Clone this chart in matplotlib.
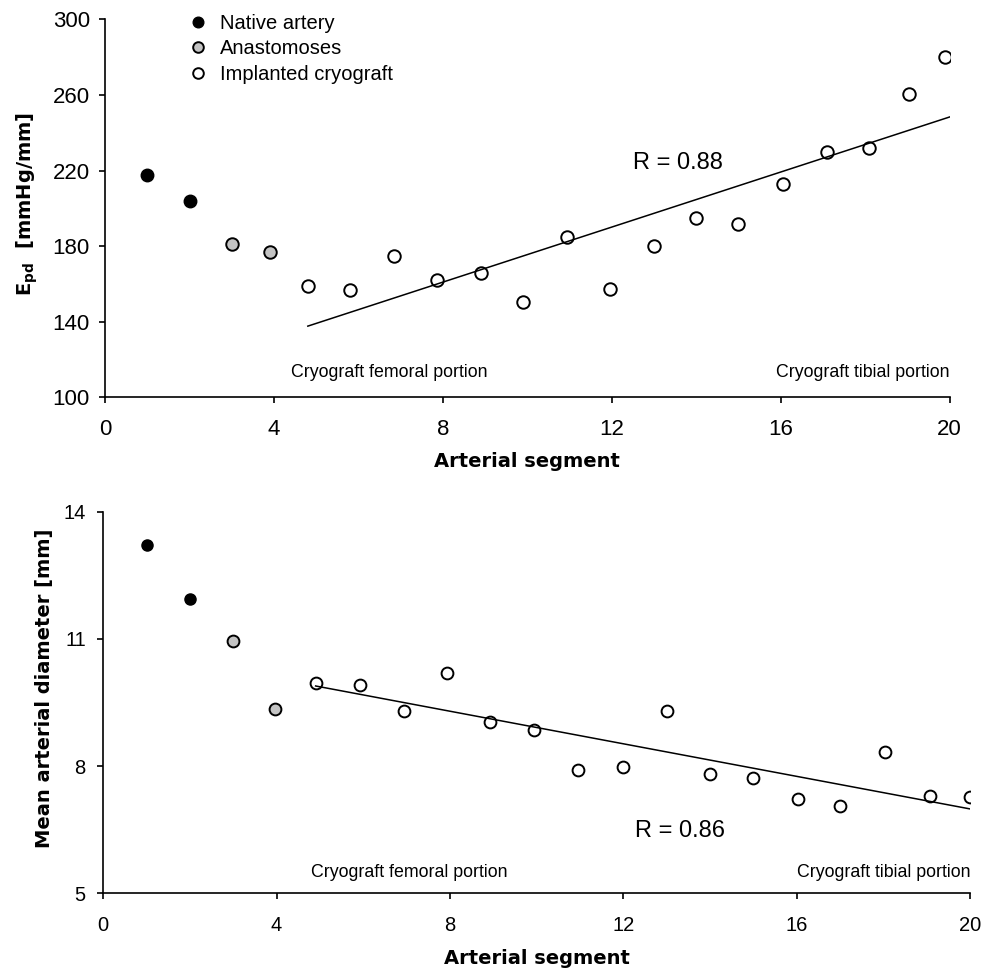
import numpy as np
import matplotlib.pyplot as plt

plt.rcParams['font.family'] = ['Liberation Sans', 'DejaVu Sans']
plt.rcParams['mathtext.fontset'] = 'dejavusans'

# top panel: E_pd
native_x = [1, 2]
native_epd = [217.5, 204]
anast_x = [3, 3.9]
anast_epd = [181, 177]
graft_x_top = [4.8, 5.8, 6.85, 7.85, 8.9, 9.9, 10.95, 11.95, 13, 14, 15, 16.05, 17.1, 18.1, 19.05, 19.9]
graft_epd = [158.7, 156.6, 174.6, 162, 165.6, 150.3, 184.7, 157, 180, 195, 191.5, 212.7, 229.6, 231.7, 260.3, 280]
fit_x_top = [4.8, 20.05]
fit_epd = [137.6, 248.7]

# bottom panel: mean diameter
native_diam = [13.22, 11.94]
anast_x_bot = [3, 3.97]
anast_diam = [10.95, 9.34]
graft_x_bot = [4.9, 5.93, 6.94, 7.93, 8.93, 9.94, 10.96, 12, 13, 14, 15, 16.03, 17, 18.04, 19.08, 20]
graft_diam = [9.96, 9.91, 9.3, 10.19, 9.04, 8.85, 7.92, 7.97, 9.3, 7.81, 7.71, 7.22, 7.07, 8.33, 7.29, 7.26]
fit_x_bot = [4.9, 20.05]
fit_diam = [9.89, 6.98]

grey = '#c4c4c4'
lab_font = dict(family='DejaVu Sans', fontsize=14, fontweight='bold')

fig = plt.figure(figsize=(9.83, 9.71), dpi=100)
ax1 = fig.add_axes([0.107, 0.591, 0.859, 0.389])
ax2 = fig.add_axes([0.105, 0.080, 0.882, 0.393])

def style(ax, xpad, ypad, size):
    ax.spines['top'].set_visible(False)
    ax.spines['right'].set_visible(False)
    for s in ['left', 'bottom']:
        ax.spines[s].set_linewidth(1.2)
    ax.tick_params(direction='out', length=4, width=1.2, labelsize=size)
    ax.tick_params(axis='x', pad=xpad)
    ax.tick_params(axis='y', pad=ypad)
    ax.set_xlim(0, 20)
    ax.set_xticks([0, 4, 8, 12, 16, 20])

# top
ax1.plot(native_x, native_epd, 'o', color='black', mec='black', ms=9, label='Native artery')
ax1.plot(anast_x, anast_epd, 'o', color=grey, mec='black', mew=1.4, ms=9, label='Anastomoses')
ax1.plot(graft_x_top, graft_epd, 'o', color='white', mec='black', mew=1.4, ms=9, label='Implanted cryograft')
ax1.plot(fit_x_top, fit_epd, '-', color='black', lw=1.1)
ax1.set_ylim(100, 300)
ax1.set_yticks([100, 140, 180, 220, 260, 300])
ax1.text(4.4, 113, 'Cryograft femoral portion', fontsize=12.8, va='center')
ax1.text(20, 113, 'Cryograft tibial portion', fontsize=12.8, va='center', ha='right')
ax1.text(12.5, 224, 'R = 0.88', fontsize=17, va='center')
style(ax1, 12, 7, 16)
ax1.set_xlabel('Arterial segment', **lab_font)
ax1.xaxis.set_label_coords(0.5, -0.146)
ax1.set_ylabel(r'$\mathbf{E}_{\mathbf{pd}}$  [mmHg/mm]', **lab_font)
ax1.yaxis.set_label_coords(-0.077, 0.511)
ax1.legend(loc='upper left', bbox_to_anchor=(0.07, 1.063), frameon=False, fontsize=14.5,
           handletextpad=0.35, labelspacing=0.33, markerscale=0.85, handlelength=1.5)

# bottom
ax2.plot(native_x, native_diam, 'o', color='black', mec='black', ms=8)
ax2.plot(anast_x_bot, anast_diam, 'o', color=grey, mec='black', mew=1.4, ms=8.5)
ax2.plot(graft_x_bot, graft_diam, 'o', color='white', mec='black', mew=1.4, ms=8.5)
ax2.plot(fit_x_bot, fit_diam, '-', color='black', lw=1.1)
ax2.set_ylim(5, 14)
ax2.set_yticks([5, 8, 11, 14])
ax2.text(4.8, 5.49, 'Cryograft femoral portion', fontsize=12.8, va='center')
ax2.text(20, 5.49, 'Cryograft tibial portion', fontsize=12.8, va='center', ha='right')
ax2.text(12.27, 6.48, 'R = 0.86', fontsize=17, va='center')
style(ax2, 12, 8.5, 14.5)
ax2.set_xlabel('Arterial segment', **lab_font)
ax2.xaxis.set_label_coords(0.5, -0.147)
ax2.set_ylabel('Mean arterial diameter [mm]', **lab_font)
ax2.yaxis.set_label_coords(-0.057, 0.538)

fig.savefig('out.png', dpi=100)
